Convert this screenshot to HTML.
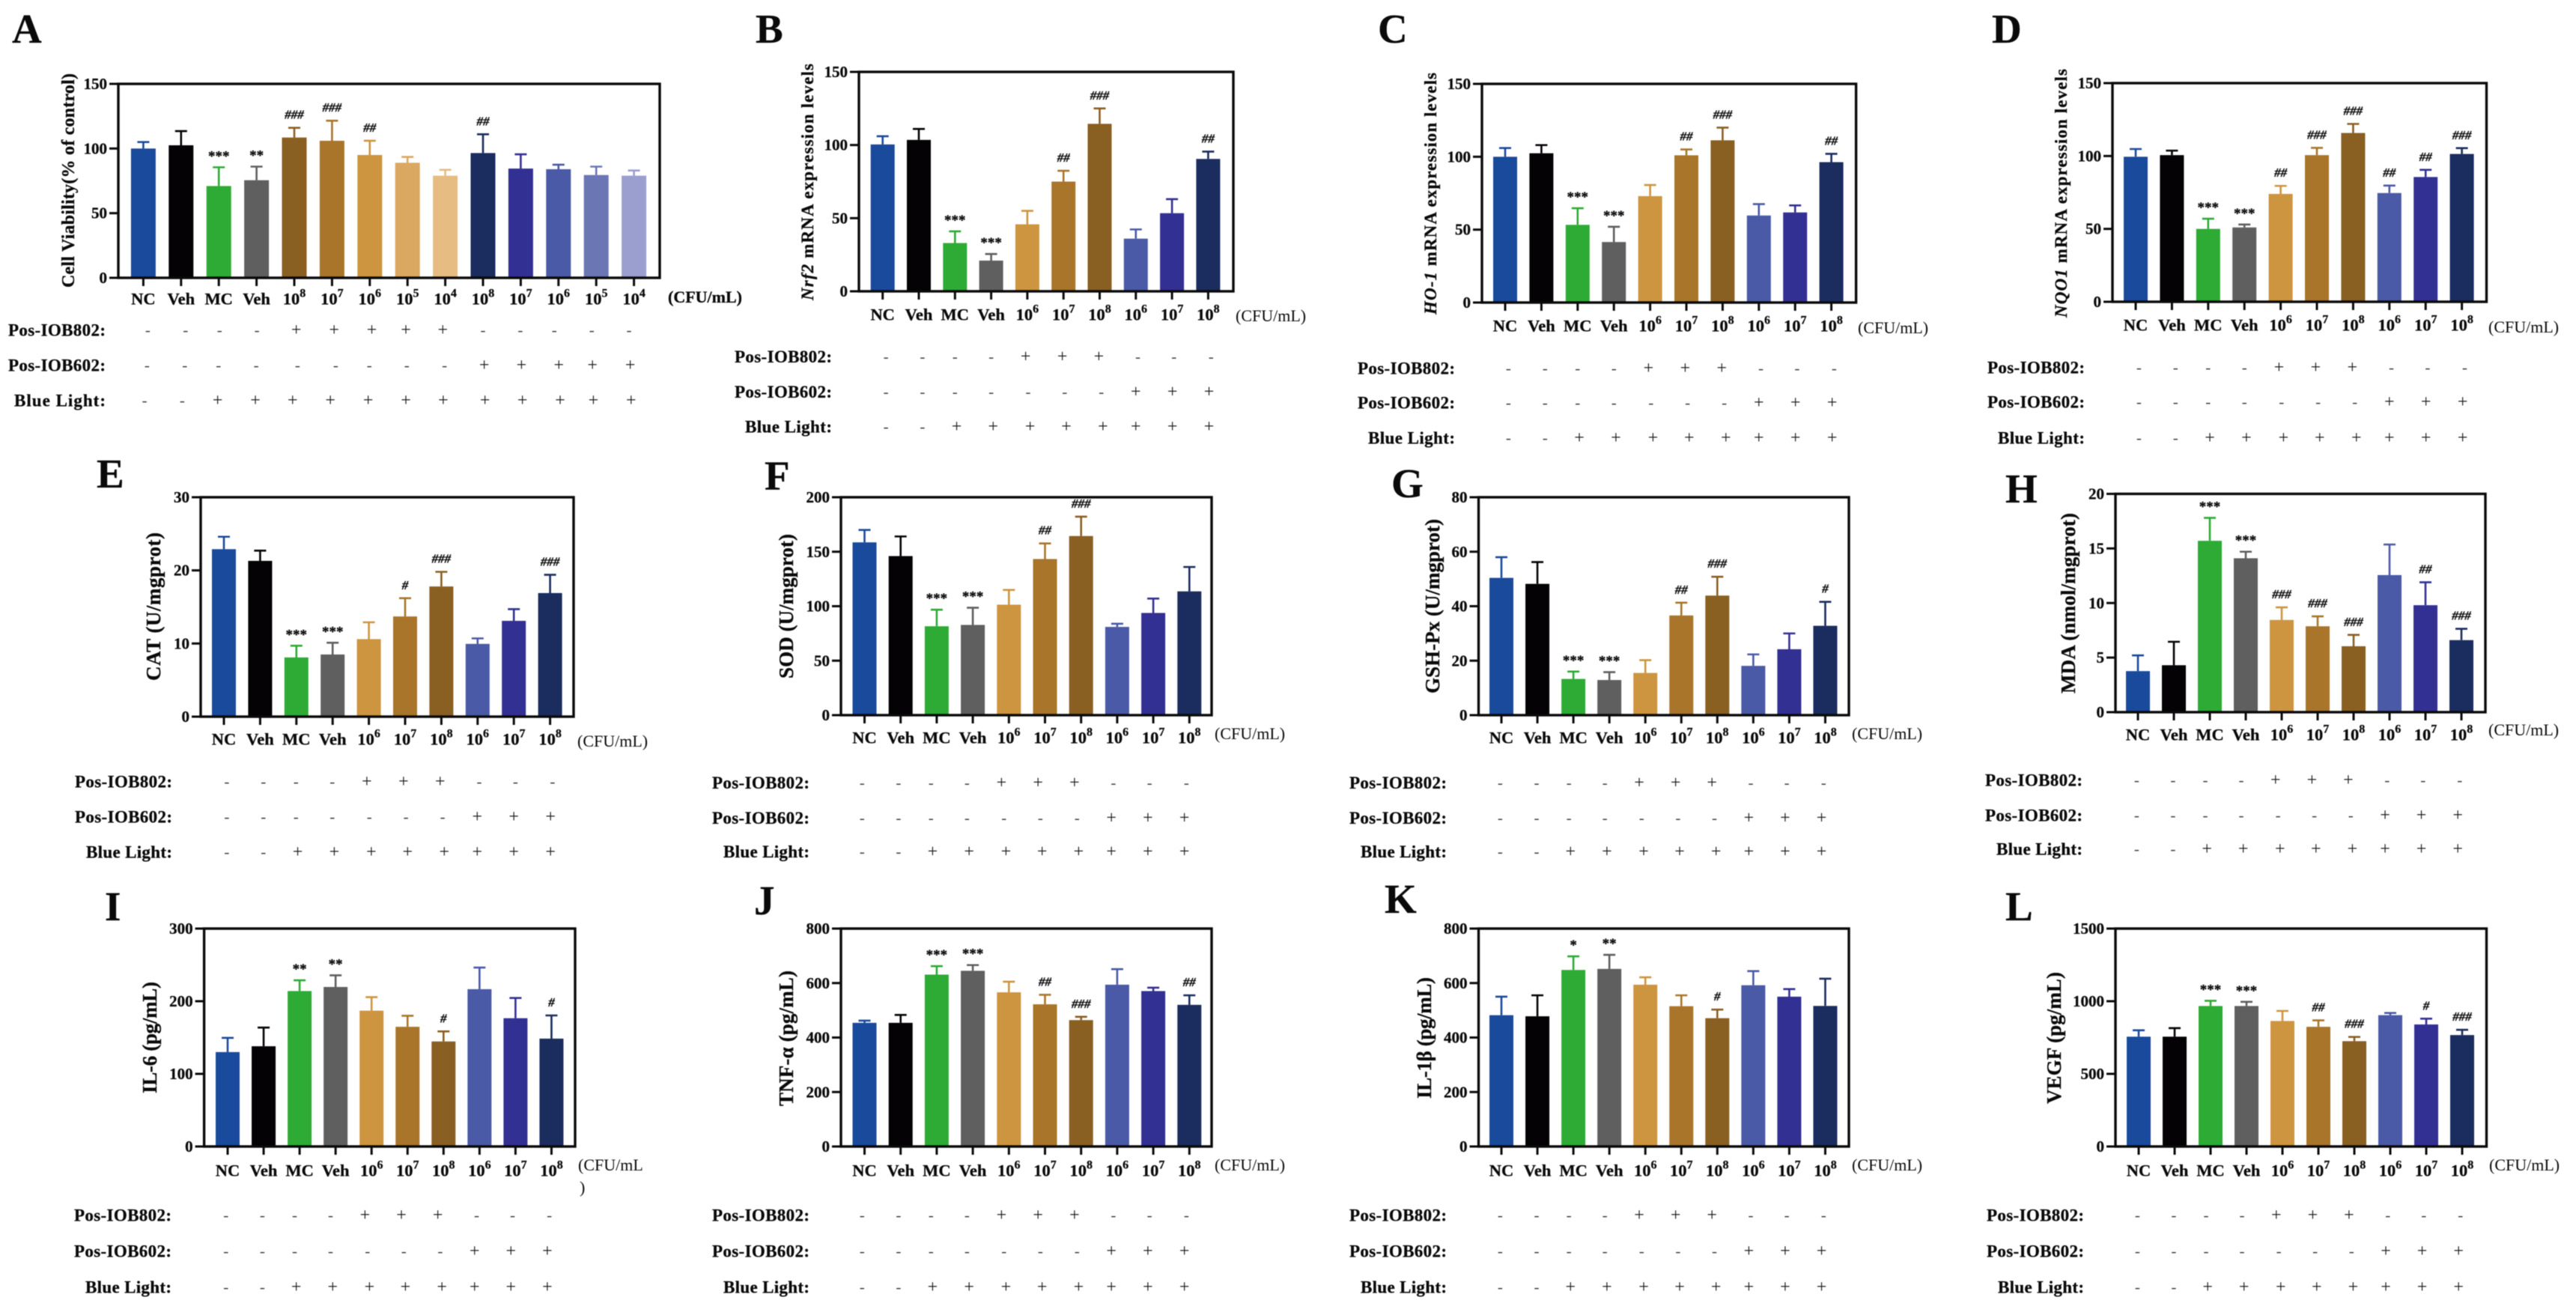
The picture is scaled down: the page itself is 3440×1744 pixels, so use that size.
<!DOCTYPE html>
<html lang="en">
<head>
<meta charset="utf-8">
<title>Bar chart panels A-L</title>
<style>
html,body{margin:0;padding:0;background:#fff;}
#figure{display:block;filter:blur(.55px);}
text{font-family:"Liberation Serif","DejaVu Serif",serif;fill:#0a0a0a;}
text[font-weight="bold"]{stroke:#0a0a0a;stroke-width:.3px;}
</style>
</head>
<body>
<svg id="figure" xmlns="http://www.w3.org/2000/svg" width="3440" height="1744" viewBox="0 0 3440 1744"></svg>
<script>
/* ---------- categories and treatment rows ---------- */
const categoriesFourteen = ['NC','Veh','MC','Veh','10^8','10^7','10^6','10^5','10^4','10^8','10^7','10^6','10^5','10^4'];
const categoriesTen = ['NC','Veh','MC','Veh','10^6','10^7','10^8','10^6','10^7','10^8'];
const iob802Fourteen = ['-','-','-','-','+','+','+','+','+','-','-','-','-','-'];
const iob602Fourteen = ['-','-','-','-','-','-','-','-','-','+','+','+','+','+'];
const lightFourteen = ['-','-','+','+','+','+','+','+','+','+','+','+','+','+'];
const iob802Ten = ['-','-','-','-','+','+','+','-','-','-'];
const iob602Ten = ['-','-','-','-','-','-','-','+','+','+'];
const lightTen = ['-','-','+','+','+','+','+','+','+','+'];

/* ---------- bar colours ---------- */
const coloursFourteen = ['#1a4a9c','#040204','#2eab35','#5f5f5f','#8a5f22','#a9752a','#cd9540','#dba862','#e6bc82','#1b2c5e','#333093','#4a5aa6','#6b76b5','#9a9fd0'];
const coloursTen = ['#1a4a9c','#040204','#2eab35','#5f5f5f','#cd9540','#a9752a','#8a5f22','#4a5aa6','#333093','#1b2c5e'];

/* ---------- panel values ---------- */
const ticksA = [0,50,100,150];
const valuesA = [100,102.5,71,75.5,108.5,106,95,89,79,96.5,84.5,84,79.5,79];
const errorsA = [105,113.5,85.5,86,116,121.5,106,93.5,83.5,111,95.5,87.5,86,83];
const significanceA = ['','','***','**','###','###','##','','','##','','','',''];

const ticksB = [0,50,100,150];
const valuesB = [100.4,103.5,33,21,45.8,75,114.5,36,53.4,90.5];
const errorsB = [106,111,41,25.5,55,82.4,125,42.3,63,95.5];
const significanceB = ['','','***','***','','##','###','','','##'];

const ticksC = [0,50,100,150];
const valuesC = [100,102.4,53.3,41.5,73,101,111.3,59.7,61.8,96.3];
const errorsC = [106,108,64.7,52,80.6,105,120,67.5,66.6,102];
const significanceC = ['','','***','***','','##','###','','','##'];

const ticksD = [0,50,100,150];
const valuesD = [99.5,100.6,50,51,74,100.6,115.8,74.6,85.6,101.4];
const errorsD = [104.8,103.7,57,53,79.5,105.6,122,79.7,90.5,105.4];
const significanceD = ['','','***','***','##','###','###','##','##','###'];

const ticksE = [0,10,20,30];
const valuesE = [22.9,21.3,8.1,8.5,10.6,13.7,17.8,9.95,13.1,16.9];
const errorsE = [24.6,22.7,9.7,10.1,12.9,16.2,19.8,10.7,14.7,19.4];
const significanceE = ['','','***','***','','#','###','','','###'];

const ticksF = [0,50,100,150,200];
const valuesF = [158.6,146,81.6,82.8,101.4,143.3,164.4,81,93.8,113.6];
const errorsF = [170,164,96.8,98.6,114.9,157.6,182.2,83.9,107,136];
const significanceF = ['','','***','***','','##','###','','',''];

const ticksG = [0,20,40,60,80];
const valuesG = [50.4,48.2,13.3,12.9,15.5,36.6,43.9,18.1,24.2,32.8];
const errorsG = [58,56.2,16,15.8,20.2,41.3,50.8,22.3,30,41.6];
const significanceG = ['','','***','***','','##','###','','','#'];

const ticksH = [0,5,10,15,20];
const valuesH = [3.76,4.3,15.7,14.1,8.45,7.87,6.04,12.56,9.8,6.6];
const errorsH = [5.2,6.45,17.8,14.7,9.6,8.78,7.08,15.36,11.9,7.64];
const significanceH = ['','','***','***','###','###','###','','##','###'];

const ticksI = [0,100,200,300];
const valuesI = [130,138,214,219.6,187,164.8,144.6,216.6,176.6,148.5];
const errorsI = [149.6,163.7,228.8,235.6,205.6,180,158.4,246.3,204.4,180.4];
const significanceI = ['','','**','**','','','#','','','#'];

const ticksJ = [0,200,400,600,800];
const valuesJ = [454,454,631,645,566,522,464,594,570.6,520];
const errorsJ = [462,483,662,666,605,557,476,651,583,555];
const significanceJ = ['','','***','***','','##','###','','','##'];

const ticksK = [0,200,400,600,800];
const valuesK = [482,478,648,652,594,515,471,592,550,516];
const errorsK = [550,555,698,703.6,621,555,502.5,643.7,577.7,616];
const significanceK = ['','','*','**','','','#','','',''];

const ticksL = [0,500,1000,1500];
const valuesL = [756,756,967,967,864,824,725,904,840,767];
const errorsL = [800,815,1003,996,933,868,754,919,880,803];
const significanceL = ['','','***','***','','##','###','','#','###'];

/* ---------- drawing ---------- */
const SVG_NS = 'http://www.w3.org/2000/svg';
const root = document.getElementById('figure');

function node(tag, attrs, parent) {
  const el = document.createElementNS(SVG_NS, tag);
  for (const k in attrs) el.setAttribute(k, attrs[k]);
  parent.appendChild(el);
  return el;
}

function drawCategoryLabel(parent, label, x, y) {
  const t = node('text', {x: x, y: y, 'text-anchor': 'middle', 'font-size': 22.5, 'font-weight': 'bold'}, parent);
  
  
  const parts = label.split('^');
  t.appendChild(document.createTextNode(parts[0]));
  if (parts[1]) {
    const sup = node('tspan', {dy: -10, 'font-size': 16}, t);
    sup.textContent = parts[1];
  }
}

function drawPanel(p) {
  const g = node('g', {}, root);
  
  

  const maxTick = p.ticks[p.ticks.length - 1];
  const yScale = v => p.B - (v / maxTick) * (p.B - p.T);
  const xScale = i => p.first + i * p.step;

  const letter = node('text', {x: p.letterX, y: p.letterY, 'font-size': 55, 'font-weight': 'bold'}, g);
  
  
  letter.textContent = p.letter;

  /* bars and error bars */
  p.values.forEach((v, i) => {
    const cx = xScale(i);
    const bar = node('rect', {x: cx - p.barW / 2, y: yScale(v), width: p.barW, height: p.B - yScale(v), fill: p.colours[i]}, g);
    
    

    const ey = yScale(p.errors[i]);
    const err = node('path', {d: 'M' + cx + ' ' + yScale(v) + 'V' + ey + 'M' + (cx - 8) + ' ' + ey + 'H' + (cx + 8), fill: 'none', stroke: p.colours[i], 'stroke-width': 2.6}, g);
    
    

    const mark = p.significance[i];
    if (mark) {
      const isStar = mark[0] === '*';
      const sig = node('text', {x: cx, y: ey - 18 + (isStar ? 9 : 6), 'text-anchor': 'middle', 'font-weight': 'bold', 'font-size': isStar ? 19 : 17, 'font-style': isStar ? 'normal' : 'italic'}, g);
      
      
      sig.textContent = mark;
    }
  });

  /* frame */
  const frame = node('rect', {x: p.L, y: p.T, width: p.R - p.L, height: p.B - p.T, fill: 'none', stroke: '#0a0a0a', 'stroke-width': 3.4}, g);
  
  

  /* y axis */
  p.ticks.forEach(t => {
    const y = yScale(t);
    const tick = node('line', {x1: p.L - 12, x2: p.L, y1: y, y2: y, stroke: '#0a0a0a', 'stroke-width': 3}, g);
    
    
    const label = node('text', {x: p.L - 15, y: y + 7, 'text-anchor': 'end', 'font-size': 21, 'font-weight': 'bold'}, g);
    
    
    label.textContent = t;
  });

  /* y title */
  const title = node('text', {
    transform: 'translate(' + (p.titleX + 7) + ' ' + ((p.titleTop + p.titleBottom) / 2) + ') rotate(-90)',
    'text-anchor': 'middle', 'font-size': p.titleSize, 'font-weight': 'bold',
    textLength: p.titleBottom - p.titleTop, lengthAdjust: 'spacing'
  }, g);
  
  
  if (p.titleItalic) {
    const it = node('tspan', {'font-style': 'italic'}, title);
    it.textContent = p.titleItalic;
  }
  title.appendChild(document.createTextNode(p.title));

  /* x axis */
  p.categories.forEach((c, i) => {
    const cx = xScale(i);
    const tick = node('line', {x1: cx, x2: cx, y1: p.B, y2: p.B + 11, stroke: '#0a0a0a', 'stroke-width': 3}, g);
    
    
    drawCategoryLabel(g, c, cx, p.tickY + 7.5);
  });

  const unit = node('text', {x: p.cfuX, y: p.cfuY + 7, 'font-size': 22, 'font-weight': p.cfuBold ? 'bold' : 'normal'}, g);
  
  
  unit.textContent = p.cfuText || '(CFU/mL)';
  if (p.cfuWrap) {
    const wrap = node('text', {x: p.cfuX + 2, y: p.cfuY + 37, 'font-size': 22}, g);
    
    
    wrap.textContent = p.cfuWrap;
  }

  /* treatment rows */
  const rows = [
    {label: 'Pos-IOB802:', signs: p.rows[0], width: 130, nudge: p.nudges[0]},
    {label: 'Pos-IOB602:', signs: p.rows[1], width: 130, nudge: p.nudges[1]},
    {label: 'Blue Light:', signs: p.rows[2], width: p.blueW, nudge: p.nudges[2]}
  ];
  rows.forEach((row, r) => {
    const y = p.rowY[r];
    const lab = node('text', {x: p.labelRight, y: y + 7.5, 'text-anchor': 'end', 'font-size': 23, 'font-weight': 'bold', textLength: row.width, lengthAdjust: 'spacing'}, g);
    
    
    lab.textContent = row.label;
    row.signs.forEach((s, i) => {
      const plus = s === '+';
      const sign = node('text', {
        x: xScale(i) + row.nudge[i] + p.signShift,
        y: y + (plus ? 7 : 6.5),
        'text-anchor': 'middle', 'font-size': plus ? 24 : 21
      }, g);
      sign.style.fill = plus ? '#1c1c1c' : '#444';
      
      
      sign.textContent = s;
    });
  });
}

const nudgeTen = [
  [4.4,4.9,0,0,-2.2,-1.6,-1.1,2.7,2.7,3.8],
  [4.4,4.9,0,0,1.1,1.6,2.2,0,0.5,1.1],
  [4.4,4.9,2.2,2.7,3.8,3.8,4.4,0,0.5,1.1]
];
const nudgeFourteen = [
  [6,6,1,0.5,2.7,2.7,2.7,-2.2,-3.3,0,-0.5,-5.5,-6,-6.6],
  [5,5,-0.5,-0.5,4.4,5,-0.5,-1,-1,1.6,1,0.5,-5,-5],
  [1.6,1.6,-1.6,-1.6,-2.2,-2.2,-2.2,-2.2,-2.7,2.7,2.2,2.2,-3.8,-3.8]
];
const rowsTen = [iob802Ten, iob602Ten, lightTen];

drawPanel({letter:'A',letterX:16,letterY:57,L:158,R:881,T:112,B:371,first:191.4,step:50.4,barW:33,tickY:399,
  rowY:[441,488,535],labelRight:141,blueW:122,cfuX:892,cfuY:397,cfuBold:true,signShift:0,
  titleX:92,titleTop:98,titleBottom:384,titleSize:24,title:'Cell Viability(% of control)',
  ticks:ticksA,values:valuesA,errors:errorsA,significance:significanceA,categories:categoriesFourteen,colours:coloursFourteen,
  rows:[iob802Fourteen,iob602Fourteen,lightFourteen],nudges:nudgeFourteen});

drawPanel({letter:'B',letterX:1009,letterY:57,L:1147,R:1647,T:96,B:389,first:1178.7,step:48.3,barW:32,tickY:420,
  rowY:[476.6,523.6,570],labelRight:1111,blueW:116,cfuX:1650,cfuY:422,signShift:0,
  titleX:1079,titleTop:85,titleBottom:401,titleSize:23,titleItalic:'Nrf2',title:' mRNA expression levels',
  ticks:ticksB,values:valuesB,errors:errorsB,significance:significanceB,categories:categoriesTen,colours:coloursTen,rows:rowsTen,nudges:nudgeTen});

drawPanel({letter:'C',letterX:1840,letterY:57,L:1979,R:2478.6,T:112,B:404,first:2010,step:48.4,barW:32,tickY:435,
  rowY:[492,538,585],labelRight:1943,blueW:116,cfuX:2481,cfuY:438,signShift:0,
  titleX:1911,titleTop:97,titleBottom:420,titleSize:23,titleItalic:'HO-1',title:' mRNA expression levels',
  ticks:ticksC,values:valuesC,errors:errorsC,significance:significanceC,categories:categoriesTen,colours:coloursTen,rows:rowsTen,nudges:nudgeTen});

drawPanel({letter:'D',letterX:2660,letterY:57,L:2821,R:3320.5,T:111,B:403,first:2852,step:48.4,barW:32,tickY:434,
  rowY:[491,537,585],labelRight:2784,blueW:116,cfuX:3323,cfuY:437,signShift:0,
  titleX:2753,titleTop:92,titleBottom:424,titleSize:23,titleItalic:'NQO1',title:' mRNA expression levels',
  ticks:ticksD,values:valuesD,errors:errorsD,significance:significanceD,categories:categoriesTen,colours:coloursTen,rows:rowsTen,nudges:nudgeTen});

drawPanel({letter:'E',letterX:129,letterY:651,L:268,R:766,T:664,B:957,first:299,step:48.4,barW:32,tickY:987,
  rowY:[1044,1091,1138],labelRight:230,blueW:115,cfuX:771,cfuY:990,signShift:-0.5,
  titleX:207,titleTop:711,titleBottom:909,titleSize:27,title:'CAT (U/mgprot)',
  ticks:ticksE,values:valuesE,errors:errorsE,significance:significanceE,categories:categoriesTen,colours:coloursTen,rows:rowsTen,nudges:nudgeTen});

drawPanel({letter:'F',letterX:1021,letterY:654,L:1123,R:1618,T:664,B:955,first:1154.5,step:48.2,barW:32,tickY:985,
  rowY:[1045.5,1092.5,1137.6],labelRight:1081,blueW:115,cfuX:1622,cfuY:980,signShift:-7.7,
  titleX:1052,titleTop:713,titleBottom:906,titleSize:27,title:'SOD (U/mgprot)',
  ticks:ticksF,values:valuesF,errors:errorsF,significance:significanceF,categories:categoriesTen,colours:coloursTen,rows:rowsTen,nudges:nudgeTen});

drawPanel({letter:'G',letterX:1858,letterY:664,L:1974.5,R:2469,T:664,B:955,first:2005,step:48.05,barW:32,tickY:985,
  rowY:[1045.5,1092.5,1137.6],labelRight:1932,blueW:115,cfuX:2473,cfuY:980,signShift:-6,
  titleX:1915,titleTop:693,titleBottom:926,titleSize:27,title:'GSH-Px (U/mgprot)',
  ticks:ticksG,values:valuesG,errors:errorsG,significance:significanceG,categories:categoriesTen,colours:coloursTen,rows:rowsTen,nudges:nudgeTen});

drawPanel({letter:'H',letterX:2678,letterY:671,L:2825,R:3319,T:659.5,B:951,first:2855,step:48,barW:32,tickY:981,
  rowY:[1042,1089,1134],labelRight:2781,blueW:115,cfuX:3323,cfuY:975,signShift:-6,
  titleX:2764,titleTop:685,titleBottom:926,titleSize:27,title:'MDA (nmol/mgprot)',
  ticks:ticksH,values:valuesH,errors:errorsH,significance:significanceH,categories:categoriesTen,colours:coloursTen,rows:rowsTen,nudges:nudgeTen});

drawPanel({letter:'I',letterX:140,letterY:1229,L:272.6,R:768,T:1240,B:1531,first:304,step:48.05,barW:32,tickY:1563,
  rowY:[1623,1671,1719],labelRight:229,blueW:115,cfuX:772,cfuY:1556,signShift:-6.6,cfuText:'(CFU/mL',cfuWrap:')',
  titleX:202,titleTop:1311,titleBottom:1460,titleSize:27,title:'IL-6 (pg/mL)',
  ticks:ticksI,values:valuesI,errors:errorsI,significance:significanceI,categories:categoriesTen,colours:coloursTen,rows:rowsTen,nudges:nudgeTen});

drawPanel({letter:'J',letterX:1007,letterY:1221,L:1123,R:1618,T:1240,B:1531,first:1154.5,step:48.2,barW:32,tickY:1563,
  rowY:[1623,1671,1719],labelRight:1081,blueW:115,cfuX:1622,cfuY:1556,signShift:-7.7,
  titleX:1052,titleTop:1296,titleBottom:1477,titleSize:27,title:'TNF-\u03b1 (pg/mL)',
  ticks:ticksJ,values:valuesJ,errors:errorsJ,significance:significanceJ,categories:categoriesTen,colours:coloursTen,rows:rowsTen,nudges:nudgeTen});

drawPanel({letter:'K',letterX:1849,letterY:1219,L:1974.5,R:2469,T:1240,B:1531,first:2005,step:48.05,barW:32,tickY:1563,
  rowY:[1623,1671,1719],labelRight:1932,blueW:115,cfuX:2473,cfuY:1556,signShift:-6,
  titleX:1904,titleTop:1305,titleBottom:1467,titleSize:27,title:'IL-1\u03b2 (pg/mL)',
  ticks:ticksK,values:valuesK,errors:errorsK,significance:significanceK,categories:categoriesTen,colours:coloursTen,rows:rowsTen,nudges:nudgeTen});

drawPanel({letter:'L',letterX:2678,letterY:1229,L:2825,R:3320.5,T:1240,B:1531,first:2856,step:48,barW:32,tickY:1563,
  rowY:[1623,1671,1719],labelRight:2783,blueW:115,cfuX:3324,cfuY:1556,signShift:-6,
  titleX:2745,titleTop:1298,titleBottom:1474,titleSize:27,title:'VEGF (pg/mL)',
  ticks:ticksL,values:valuesL,errors:errorsL,significance:significanceL,categories:categoriesTen,colours:coloursTen,rows:rowsTen,nudges:nudgeTen});
</script>
</body>
</html>
